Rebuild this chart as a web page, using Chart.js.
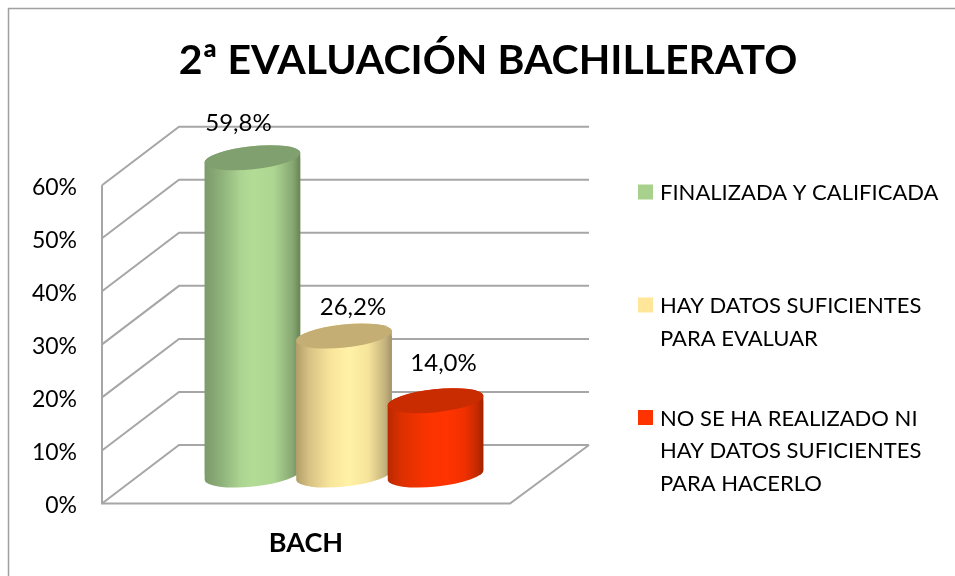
<!DOCTYPE html>
<html>
<head>
<meta charset="utf-8">
<style>html,body{margin:0;padding:0;background:#fff}canvas{display:block}</style>
<script src="https://cdn.jsdelivr.net/npm/chart.js@4"></script>
</head>
<body>
<canvas id="c" width="955" height="576"></canvas>
<script>
const titleText = '2ª EVALUACIÓN BACHILLERATO';
const categories = ['BACH'];
const seriesNames = ['FINALIZADA Y CALIFICADA', 'HAY DATOS SUFICIENTES PARA EVALUAR', 'NO SE HA REALIZADO NI HAY DATOS SUFICIENTES PARA HACERLO'];
const legendLines = [['FINALIZADA Y CALIFICADA'], ['HAY DATOS SUFICIENTES', 'PARA EVALUAR'], ['NO SE HA REALIZADO NI', 'HAY DATOS SUFICIENTES', 'PARA HACERLO']];
const seriesValues = [[59.8], [26.2], [14.0]];
const legendColors = ['#A9D18E', '#FFE699', '#FF3300'];
const capColors = ['#80A06F', '#C4AE74', '#C82C00'];
const sideStops = [
  [[0, '#7B9A6A'], [0.18, '#8FB27B'], [0.38, '#ACD491'], [0.5, '#B2DC96'], [0.72, '#AED692'], [0.92, '#86A772'], [1, '#678353']],
  [[0, '#B19E68'], [0.14, '#D8C284'], [0.36, '#F8E59B'], [0.55, '#FFF2A6'], [0.75, '#F6E49B'], [0.92, '#C7B47E'], [1, '#A3936A']],
  [[0, '#B82800'], [0.14, '#DC3000'], [0.4, '#F93300'], [0.62, '#FF3400'], [0.8, '#F03000'], [0.93, '#C62A00'], [1, '#A02200']]
];
const labelShift = [[-14, -34], [9, -29], [8, -37]];
const FONT = 'Lato, Carlito, sans-serif';
const GRID = '#A6A6A6';
const DEPTH_X = 77, DEPTH_Y = -58.5, BAR_DX = 38, BAR_DY = -28.5;
const TILT = -6 * Math.PI / 180, CAP_MINOR = 11.5;

function fmt(v) { return v.toFixed(1).replace('.', ',') + '%'; }

function drawWalls(chart) {
  const ctx = chart.ctx, y = chart.scales.y, a = chart.chartArea;
  ctx.save();
  ctx.strokeStyle = GRID; ctx.lineWidth = 2; ctx.lineCap = 'butt'; ctx.lineJoin = 'miter';
  // outer frame
  ctx.beginPath(); ctx.lineWidth = 1.5; ctx.strokeStyle = '#A0A0A0';
  ctx.moveTo(8.5, 576); ctx.lineTo(8.5, 8.5); ctx.lineTo(955, 8.5); ctx.stroke();
  ctx.strokeStyle = GRID; ctx.lineWidth = 2;
  y.ticks.forEach(t => {
    const py = y.getPixelForValue(t.value);
    ctx.beginPath();
    ctx.moveTo(a.left, py);
    ctx.lineTo(a.left + DEPTH_X, py + DEPTH_Y);
    ctx.lineTo(a.right + DEPTH_X + 2, py + DEPTH_Y);
    ctx.stroke();
  });
  const y0 = y.getPixelForValue(0), yTop = y.getPixelForValue(60);
  ctx.beginPath();
  ctx.moveTo(a.left, yTop); ctx.lineTo(a.left, y0); ctx.lineTo(a.right, y0);
  ctx.lineTo(a.right + DEPTH_X + 2, y0 + DEPTH_Y);
  ctx.stroke();
  ctx.restore();
}

function drawCylinder(chart, i) {
  const ctx = chart.ctx, meta = chart.getDatasetMeta(i), bar = meta.data[0];
  const half = bar.width / 2;
  const grad = ctx.createLinearGradient(bar.x - half, 0, bar.x + half, 0);
  sideStops[i].forEach(s => grad.addColorStop(s[0], s[1]));
  bar.options = Object.assign({}, bar.options, { backgroundColor: grad, borderWidth: 0 });
  ctx.save();
  ctx.translate(BAR_DX, BAR_DY);
  ctx.beginPath();
  ctx.ellipse(bar.x, bar.y, half, CAP_MINOR, TILT, Math.PI, 2 * Math.PI);
  ctx.ellipse(bar.x, bar.base, half, CAP_MINOR, TILT, 0, Math.PI);
  ctx.closePath();
  ctx.fillStyle = grad;
  ctx.fill();
  ctx.save();
  ctx.clip();
  meta.controller.draw();
  ctx.restore();
  ctx.beginPath();
  ctx.ellipse(bar.x, bar.y, half, CAP_MINOR, TILT, 0, 2 * Math.PI);
  ctx.fillStyle = capColors[i];
  ctx.fill();
  ctx.restore();
}

const cylinders = {
  id: 'cylinders',
  install(chart) {
    Chart.layouts.addBox(chart, {
      position: 'right', weight: 0, fullSize: false, options: {},
      width: 445, height: 0, left: 0, top: 0, right: 0, bottom: 0,
      isHorizontal() { return false; },
      update(w, h) { this.width = 445; this.height = h; return { w: 445, h }; },
      draw() {
        const ctx = chart.ctx;
        const rows = [192, 305, 417.5];
        ctx.save();
        ctx.textBaseline = 'middle'; ctx.textAlign = 'left';
        ctx.font = '22px ' + FONT;
        legendLines.forEach((lines, i) => {
          ctx.fillStyle = legendColors[i];
          ctx.fillRect(638, rows[i] - 7.5, 15, 15);
          ctx.fillStyle = '#000';
          lines.forEach((ln, k) => ctx.fillText(ln, 660, rows[i] + 1 + k * 32.7));
        });
        ctx.restore();
      }
    });
  },
  beforeDatasetsDraw(chart) {
    drawWalls(chart);
    seriesValues.forEach((_, i) => drawCylinder(chart, i));
    return false;
  },
  afterDraw(chart) {
    const ctx = chart.ctx;
    ctx.save();
    ctx.font = '24px ' + FONT; ctx.fillStyle = '#000';
    ctx.textAlign = 'center'; ctx.textBaseline = 'middle';
    seriesValues.forEach((vals, i) => {
      const bar = chart.getDatasetMeta(i).data[0];
      ctx.fillText(fmt(vals[0]), bar.x + BAR_DX + labelShift[i][0], bar.y + BAR_DY + labelShift[i][1]);
    });
    ctx.restore();
  }
};

new Chart(document.getElementById('c'), {
  type: 'bar',
  data: {
    labels: categories,
    datasets: seriesNames.map((name, i) => ({
      label: name,
      data: seriesValues[i],
      backgroundColor: legendColors[i],
      categoryPercentage: 0.673,
      barPercentage: 1.05
    }))
  },
  options: {
    responsive: false,
    animation: false,
    layout: { padding: { left: 21, right: 0, top: 0, bottom: 0 } },
    plugins: {
      legend: { display: false },
      tooltip: { enabled: false },
      title: {
        display: true,
        text: titleText,
        color: '#000',
        font: { family: FONT, size: 41, weight: 'bold', lineHeight: 1.2 },
        padding: { top: 36, bottom: 100 }
      }
    },
    scales: {
      x: {
        grid: { display: false, drawTicks: false },
        border: { display: false },
        ticks: { color: '#000', font: { family: FONT, size: 27, weight: 'bold' }, padding: 24, maxRotation: 0 },
        afterFit(s) { s.height = 72.5; }
      },
      y: {
        min: 0, max: 60,
        grid: { display: false, drawTicks: false },
        border: { display: false },
        ticks: {
          stepSize: 10,
          color: '#000',
          font: { family: FONT, size: 23 },
          padding: 25,
          callback: v => v + '%'
        },
        afterFit(s) {
          s.width = 81;
          if (!s._shifted) {
            s._shifted = true;
            const base = s.drawLabels;
            s.drawLabels = function (area) {
              s.ctx.save();
              s.ctx.translate(0, 2);
              base.call(s, area);
              s.ctx.restore();
            };
          }
        }
      }
    }
  },
  plugins: [cylinders]
});
</script>
</body>
</html>
